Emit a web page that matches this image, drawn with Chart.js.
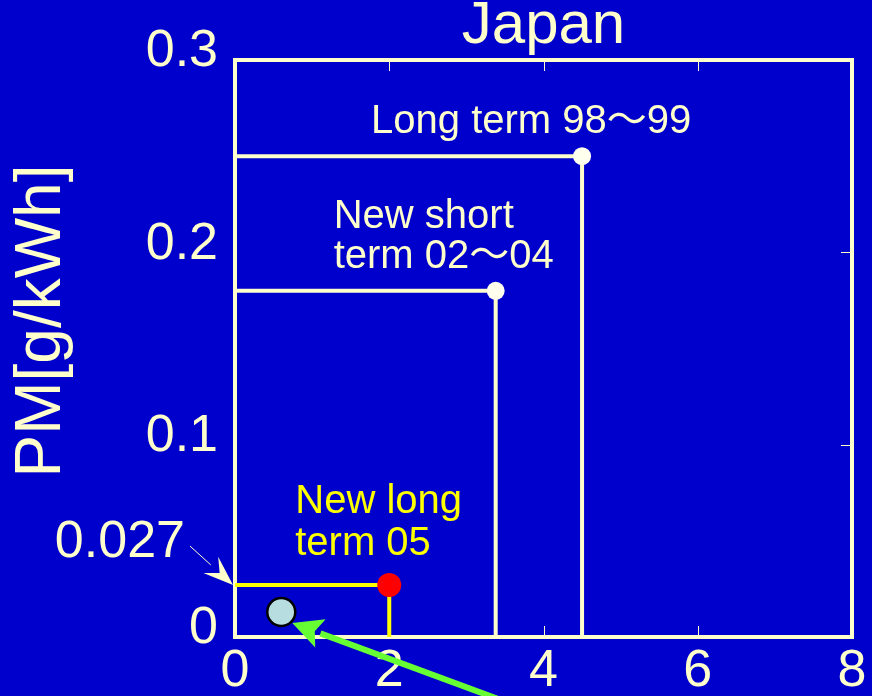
<!DOCTYPE html>
<html>
<head>
<meta charset="utf-8">
<script src="https://cdn.jsdelivr.net/npm/chart.js@4/dist/chart.umd.min.js"></script>
<style>
  html, body { margin:0; padding:0; background:#0000cc; }
  canvas { display:block; }
</style>
</head>
<body>
<canvas id="chart" width="872" height="696"></canvas>
<script>
// Japan PM / NOx emission limits (step boxes)
const seriesNames = ['Long term 98〜99', 'New short term 02〜04', 'New long term 05'];
const labelLines  = [['Long term 98〜99'], ['New short', 'term 02〜04'], ['New long', 'term 05']];
const noxLimits   = [4.5, 3.38, 2.0];
const pmLimits    = [0.25, 0.18, 0.027];
const targetNox   = [0.6];
const targetPm    = [0.013];
const xTicks      = [0, 2, 4, 6, 8];
const yTicks      = [0, 0.1, 0.2, 0.3];

const BG = '#0000cc';
const CREAM = '#ffffcc';
const YELLOW = '#ffff00';
const FONT = "'Liberation Sans', Arial, 'Noto Sans CJK JP', sans-serif";

Chart.defaults.font.family = FONT;
Chart.defaults.color = CREAM;

const lineColors  = [CREAM, CREAM, YELLOW];
const pointColors = ['#ffffee', '#ffffee', '#ff0000'];
const pointSizes  = [9, 9, 12];

const datasets = noxLimits.map((nox, i) => ({
  label: seriesNames[i],
  data: [{x:0, y:pmLimits[i]}, {x:nox, y:pmLimits[i]}, {x:nox, y:0}],
  showLine: true,
  borderColor: lineColors[i],
  borderWidth: 4,
  pointRadius: [0, pointSizes[i], 0],
  pointBackgroundColor: pointColors[i],
  pointBorderWidth: 0,
  clip: false
}));
datasets.push({
  label: 'target',
  data: targetNox.map((x, i) => ({x, y: targetPm[i]})),
  pointRadius: 14,
  pointBackgroundColor: '#b8dde0',
  pointBorderColor: '#000000',
  pointBorderWidth: 2.5,
  clip: false
});

function arrow(ctx, x1, y1, x2, y2, color, width, headLen, headW, notch) {
  const a = Math.atan2(y2 - y1, x2 - x1);
  const bx = x2 - headLen * Math.cos(a), by = y2 - headLen * Math.sin(a);
  ctx.save();
  ctx.strokeStyle = color; ctx.fillStyle = color; ctx.lineWidth = width;
  ctx.beginPath(); ctx.moveTo(x1, y1); ctx.lineTo(bx, by); ctx.stroke();
  const px = -Math.sin(a), py = Math.cos(a);
  const nx = x2 - headLen * (1 - notch) * Math.cos(a), ny = y2 - headLen * (1 - notch) * Math.sin(a);
  ctx.beginPath();
  ctx.moveTo(x2, y2);
  ctx.lineTo(bx + px * headW / 2, by + py * headW / 2);
  ctx.lineTo(nx, ny);
  ctx.lineTo(bx - px * headW / 2, by - py * headW / 2);
  ctx.closePath(); ctx.fill();
  ctx.restore();
}

const decor = {
  id: 'decor',
  beforeDraw(chart) {
    const ctx = chart.ctx;
    ctx.save(); ctx.fillStyle = BG; ctx.fillRect(0, 0, chart.width, chart.height); ctx.restore();
  },
  beforeDatasetsDraw(chart) {
    const {ctx, chartArea:a, scales:{x, y}} = chart;
    ctx.save();
    ctx.strokeStyle = CREAM; ctx.lineWidth = 1;
    xTicks.slice(1, -1).forEach(v => {
      const px = Math.round(x.getPixelForValue(v)) + 0.5;
      ctx.beginPath(); ctx.moveTo(px, a.bottom); ctx.lineTo(px, a.bottom - 11); ctx.stroke();
      ctx.beginPath(); ctx.moveTo(px, a.top); ctx.lineTo(px, a.top + 11); ctx.stroke();
    });
    yTicks.slice(1, -1).forEach(v => {
      const py = Math.round(y.getPixelForValue(v)) + 0.5;
      ctx.beginPath(); ctx.moveTo(a.right, py); ctx.lineTo(a.right - 11, py); ctx.stroke();
    });
    ctx.lineWidth = 4;
    ctx.strokeRect(a.left, a.top, a.right - a.left, a.bottom - a.top);
    ctx.restore();
  },
  afterDatasetsDraw(chart) {
    const {ctx, chartArea:a, scales:{x, y}} = chart;
    ctx.save();
    // title
    ctx.fillStyle = CREAM;
    ctx.font = '60px ' + FONT;
    ctx.textAlign = 'center'; ctx.textBaseline = 'alphabetic';
    ctx.fillText('Japan', (a.left + a.right) / 2, 43);
    // y axis title
    ctx.save();
    ctx.translate(60, 321); ctx.rotate(-Math.PI / 2);
    ctx.font = '64px ' + FONT;
    ctx.fillText('PM[g/kWh]', 0, 0);
    ctx.restore();

    // series labels, placed relative to each corner point
    const offs = [[-211, -23], [-162, -23], [-94, -30]];
    ctx.font = '40px ' + FONT;
    ctx.textAlign = 'left';
    labelLines.forEach((lines, i) => {
      const px = x.getPixelForValue(noxLimits[i]), py = y.getPixelForValue(pmLimits[i]);
      ctx.fillStyle = lineColors[i];
      const n = lines.length;
      lines.forEach((t, j) => {
        ctx.fillText(t, px + offs[i][0], py + offs[i][1] - (n - 1 - j) * (i === 2 ? 42 : 40));
      });
    });

    // 0.027 callout
    const py27 = y.getPixelForValue(pmLimits[2]);
    ctx.fillStyle = CREAM;
    ctx.font = '52px ' + FONT;
    ctx.textAlign = 'right';
    ctx.fillText(String(pmLimits[2]), a.left - 50, py27 - 28);
    arrow(ctx, a.left - 45, py27 - 39, a.left - 2, py27, CREAM, 1, 30, 22, 0.4);

    // green arrow to target
    const tx = x.getPixelForValue(targetNox[0]), ty = y.getPixelForValue(targetPm[0]);
    arrow(ctx, tx + 290, ty + 114, tx + 11, ty + 11, '#66ff33', 6, 30, 30, 0.2);
    ctx.restore();
  }
};

new Chart(document.getElementById('chart'), {
  type: 'scatter',
  data: { datasets },
  plugins: [decor],
  options: {
    responsive: false,
    animation: false,
    layout: { padding: { top: 60, right: 20, left: 0, bottom: 0 } },
    plugins: { legend: { display:false }, tooltip: { enabled:false } },
    scales: {
      x: {
        type: 'linear', min: 0, max: 8,
        afterBuildTicks: s => { s.ticks = xTicks.map(v => ({value:v})); },
        afterFit: s => { s.height = 59; },
        grid: { display:false }, border: { display:false },
        ticks: { color: CREAM, font: { size: 52 }, padding: -5, maxRotation: 0 }
      },
      y: {
        type: 'linear', min: 0, max: 0.3,
        afterBuildTicks: s => { s.ticks = yTicks.map(v => ({value:v})); },
        afterFit: s => { s.width = 235; },
        grid: { display:false }, border: { display:false },
        ticks: { color: CREAM, font: { size: 52 }, padding: 9, labelOffset: -8,
                 callback: v => v === 0 ? '0' : v.toFixed(1) }
      }
    }
  }
});
</script>
</body>
</html>
